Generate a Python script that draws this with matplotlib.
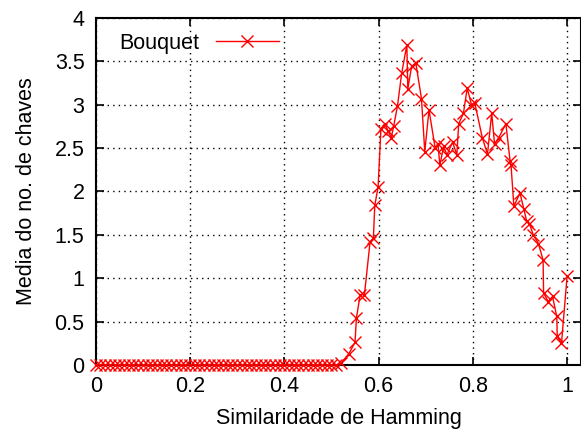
import matplotlib
matplotlib.use("Agg")
import matplotlib.pyplot as plt

plt.rcParams["font.family"] = ["Liberation Sans", "DejaVu Sans"]

# zero region (similaridade < ~0.52)
zero_x = [0.00, 0.01, 0.02, 0.03, 0.04, 0.05, 0.06, 0.07, 0.08, 0.09,
          0.10, 0.11, 0.12, 0.13, 0.14, 0.15, 0.16, 0.17, 0.18, 0.19,
          0.20, 0.21, 0.22, 0.23, 0.24, 0.25, 0.26, 0.27, 0.28, 0.29,
          0.30, 0.31, 0.32, 0.33, 0.34, 0.35, 0.36, 0.37, 0.38, 0.39,
          0.40, 0.41, 0.42, 0.43, 0.44, 0.45, 0.46, 0.47, 0.48, 0.49,
          0.50, 0.51]

peak_x = [0.520, 0.537, 0.550, 0.553, 0.561, 0.570, 0.582, 0.589, 0.592, 0.599,
          0.605, 0.613, 0.620, 0.627, 0.632, 0.640, 0.649, 0.660, 0.662, 0.670,
          0.679, 0.691, 0.698, 0.707, 0.720, 0.726, 0.730, 0.738, 0.745, 0.757,
          0.766, 0.770, 0.780, 0.788, 0.797, 0.804, 0.820, 0.831, 0.840, 0.846,
          0.855, 0.870, 0.879, 0.881, 0.887, 0.900, 0.908, 0.914, 0.920, 0.928,
          0.939, 0.949, 0.950, 0.960, 0.969, 0.978, 0.979, 0.988, 1.000]
peak_y = [0.02, 0.13, 0.26, 0.54, 0.81, 0.81, 1.42, 1.46, 1.84, 2.05,
          2.72, 2.78, 2.70, 2.62, 2.75, 2.98, 3.36, 3.69, 3.18, 3.44,
          3.48, 3.07, 2.46, 2.94, 2.50, 2.55, 2.30, 2.52, 2.42, 2.57,
          2.42, 2.78, 2.90, 3.19, 3.00, 3.02, 2.62, 2.43, 2.90, 2.55,
          2.62, 2.78, 2.35, 2.30, 1.83, 1.98, 1.80, 1.66, 1.63, 1.50,
          1.40, 1.21, 0.83, 0.73, 0.79, 0.56, 0.33, 0.25, 1.03]

x = zero_x + peak_x
y = [0.0] * len(zero_x) + peak_y

xticks = [0, 0.2, 0.4, 0.6, 0.8, 1]
xtick_labels = ["0", "0.2", "0.4", "0.6", "0.8", "1"]
yticks = [0, 0.5, 1, 1.5, 2, 2.5, 3, 3.5, 4]
ytick_labels = ["0", "0.5", "1", "1.5", "2", "2.5", "3", "3.5", "4"]

fig = plt.figure(figsize=(5.81, 4.33), dpi=100)
ax = fig.add_axes([0.1647, 0.157, 0.8358, 0.8018])

ax.plot(x, y, color="red", lw=1, marker="x", markersize=9, mew=1,
        label="Bouquet", clip_on=False, zorder=3)

ax.set_xlim(0, 1.03)
ax.set_ylim(0, 4)
ax.set_xticks(xticks)
ax.set_xticklabels(xtick_labels)
ax.set_yticks(yticks)
ax.set_yticklabels(ytick_labels)

ax.grid(True, color="black", linestyle=(0, (1, 3)), lw=1)
ax.tick_params(direction="in", length=6, width=1.2, top=True, right=True,
               labelsize=15.5, pad=8)
for s in ax.spines.values():
    s.set_linewidth(1.5)

ax.set_xlabel("Similaridade de Hamming", fontsize=15.5, labelpad=8)
ax.set_ylabel("Media do no. de chaves", fontsize=15.5, labelpad=13)

leg = ax.legend(loc="upper left", frameon=False, markerfirst=False,
                fontsize=15.5, handlelength=2.9, borderaxespad=0.3,
                bbox_to_anchor=(0.017, 1.0))

fig.savefig("out.png", dpi=100)
